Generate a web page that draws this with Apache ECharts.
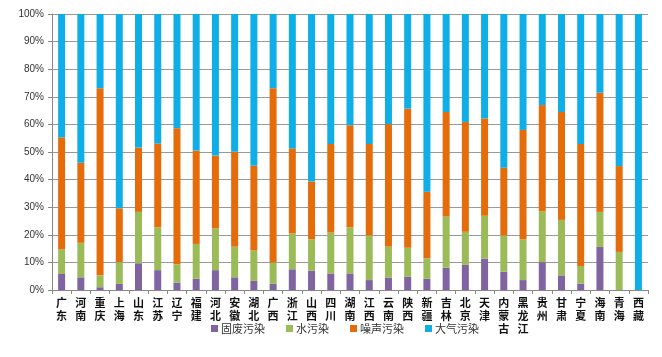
<!DOCTYPE html>
<html><head><meta charset="utf-8">
<script src="https://cdn.jsdelivr.net/npm/echarts@6/dist/echarts.min.js"></script>
<style>html,body{margin:0;padding:0;background:#fff}#c{width:662px;height:357px}</style>
</head><body><div id="c"></div>
<script>
const categories = ['广东','河南','重庆','上海','山东','江苏','辽宁','福建','河北','安徽','湖北','广西','浙江','山西','四川','湖南','江西','云南','陕西','新疆','吉林','北京','天津','内蒙古','黑龙江','贵州','甘肃','宁夏','海南','青海','西藏'];
const solidWaste = [5.8,4.6,1.0,2.2,9.7,7.2,2.7,4.1,7.2,4.6,3.3,2.2,7.5,7.0,6.0,6.0,3.6,4.5,4.8,4.1,8.1,9.1,11.4,6.6,3.6,10.1,5.3,2.3,15.6,0,0];
const water = [8.9,12.5,4.3,7.9,18.6,15.5,6.6,12.6,15.1,11.1,11.0,7.8,13.0,11.4,14.8,16.7,16.2,11.2,10.5,7.4,18.5,12.0,15.5,13.2,14.8,18.4,20.1,6.4,12.7,13.8,0];
const noise = [40.6,29.0,67.8,19.5,23.3,30.4,49.3,33.8,26.4,34.4,30.7,63.1,30.8,20.9,32.1,37.0,33.1,44.4,50.4,24.1,37.9,39.8,35.3,24.5,39.6,38.5,39.1,44.2,43.2,31.1,0];
const air = [44.7,53.9,26.9,70.4,48.4,46.9,41.4,49.5,51.3,49.9,55.0,26.9,48.7,60.7,47.1,40.3,47.1,39.9,34.3,64.4,35.5,39.1,37.8,55.7,42.0,33.0,35.5,47.1,28.5,55.1,100];
const seriesNames = ['固废污染','水污染','噪声污染','大气污染'];
const colors = ['#8064A2','#9BBB59','#E46C0A','#0FAEE6'];

const chart = echarts.init(document.getElementById('c'));
const mk = (name, data, color) => ({name, type:'bar', stack:'s', data, barWidth:7, itemStyle:{color}});
chart.setOption({
  animation:false,
  grid:{left:52,right:14,top:14,bottom:67,containLabel:false},
  legend:{top:318,left:206,itemWidth:7,itemHeight:7,itemGap:21,icon:'rect',
    textStyle:{fontSize:11,color:'#333',fontFamily:'Noto Sans CJK SC',padding:[0,0,0,-2]},data:seriesNames},
  xAxis:{type:'category',data:categories,
    axisLine:{lineStyle:{color:'#888'}},
    axisTick:{show:true,length:4,lineStyle:{color:'#888'}},
    axisLabel:{interval:0,fontSize:11,fontWeight:'bold',color:'#111',lineHeight:13,margin:6,
      fontFamily:'Noto Sans CJK SC',formatter:v=>v.split('').join('\n')}},
  yAxis:{type:'value',min:0,max:100,interval:10,
    axisLine:{show:true,lineStyle:{color:'#888'}},
    axisTick:{show:true,length:4,lineStyle:{color:'#888'}},
    splitLine:{lineStyle:{color:'#999'}},
    axisLabel:{formatter:'{value}%',fontSize:10,color:'#333',margin:8,fontFamily:'Liberation Sans'}},
  series:[mk(seriesNames[0],solidWaste,colors[0]),mk(seriesNames[1],water,colors[1]),mk(seriesNames[2],noise,colors[2]),mk(seriesNames[3],air,colors[3])]
});
</script></body></html>
